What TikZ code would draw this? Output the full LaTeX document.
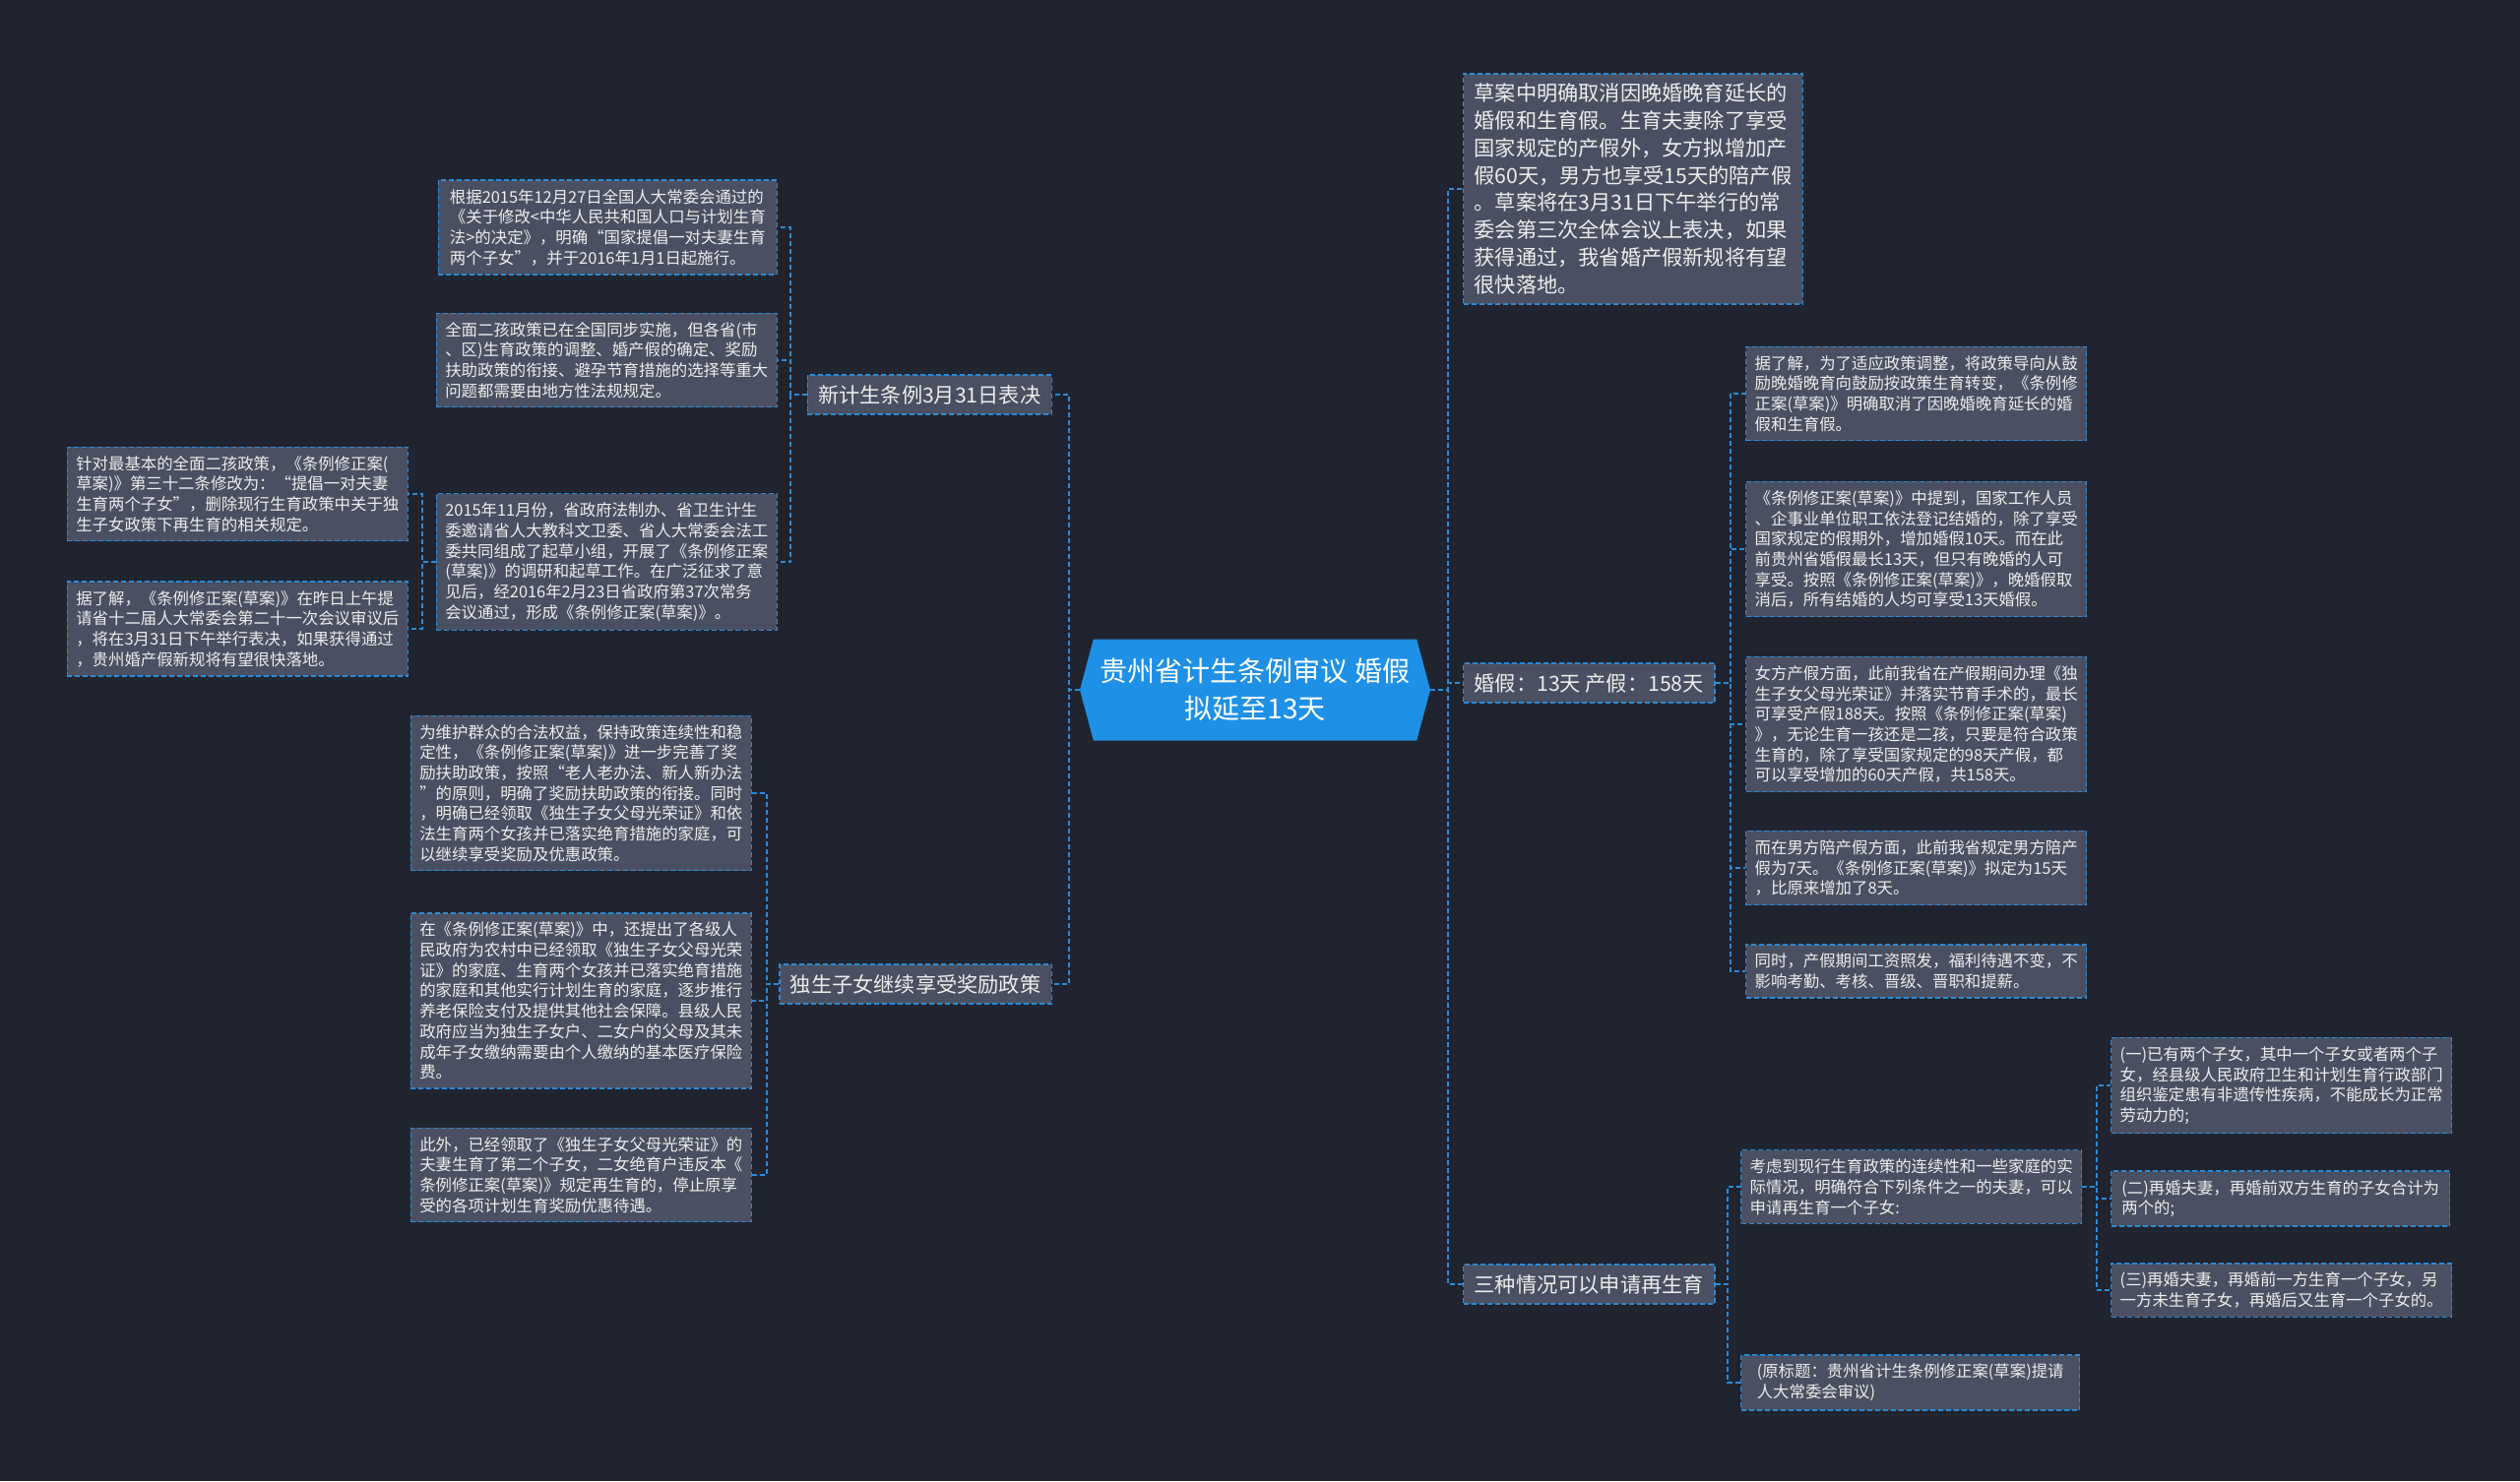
\documentclass[tikz,border=0pt]{standalone}
\usepackage{fontspec}
\setmainfont{Noto Sans CJK SC}
\usetikzlibrary{shapes.symbols}
\definecolor{bgdark}{HTML}{20242F}
\definecolor{boxgray}{HTML}{4A5061}
\definecolor{linkblue}{HTML}{2B8BD8}
\definecolor{rootblue}{HTML}{1E90E6}
\definecolor{txtlight}{HTML}{EDEDED}

\begin{document}
\begin{tikzpicture}[
    x=0.5pt, y=-0.5pt,
    root/.style={signal, signal to=west and east, signal pointer angle=150,
                 fill=rootblue, text=white, font=\fontsize{14}{18.75}\selectfont,
                 align=center, minimum width=178pt, minimum height=51.5pt, inner sep=2pt},
    topic/.style={rectangle, draw=linkblue, line width=0.7pt, dash pattern=on 2.5pt off 1.5pt,
                  fill=boxgray, text=txtlight, font=\fontsize{10.6}{13.9}\selectfont,
                  align=left, inner xsep=5.5pt, inner ysep=5pt},
    note/.style={rectangle, draw=linkblue, line width=0.7pt, dash pattern=on 2.5pt off 1.5pt,
                 fill=boxgray, text=txtlight, font=\fontsize{8.2}{10.35}\selectfont,
                 align=left, inner sep=4.5pt, minimum width=172pt},
    link/.style={draw=linkblue, line width=0.7pt, dash pattern=on 2.5pt off 1.5pt},
]
  % Background
  \fill[bgdark] (0,0) rectangle (2560,1505);
  \useasboundingbox (0,0) rectangle (2560,1505);

  % Root
  \node[root] (root) at (1275, 701) {贵州省计生条例审议 婚假\\拟延至13天};

  % Main topics
  \node[topic, anchor=east] (law) at (1069, 401) {新计生条例3月31日表决};
  \node[topic, anchor=east] (only) at (1069, 1000) {独生子女继续享受奖励政策};
  \node[topic, anchor=west] (draft) at (1486, 192)
    {草案中明确取消因晚婚晚育延长的\\婚假和生育假。生育夫妻除了享受\\国家规定的产假外，女方拟增加产\\假60天，男方也享受15天的陪产假\\。草案将在3月31日下午举行的常\\委会第三次全体会议上表决，如果\\获得通过，我省婚产假新规将有望\\很快落地。};
  \node[topic, anchor=west] (leave) at (1486, 694) {婚假：13天 产假：158天};
  \node[topic, anchor=west] (three) at (1486, 1305) {三种情况可以申请再生育};

  % Notes: vote
  \node[note, anchor=east] (law1) at (790, 231)
    {根据2015年12月27日全国人大常委会通过的\\《关于修改<中华人民共和国人口与计划生育\\法>的决定》，明确“国家提倡一对夫妻生育\\两个子女”，并于2016年1月1日起施行。};
  \node[note, anchor=east] (law2) at (790, 366)
    {全面二孩政策已在全国同步实施，但各省(市\\、区)生育政策的调整、婚产假的确定、奖励\\扶助政策的衔接、避孕节育措施的选择等重大\\问题都需要由地方性法规规定。};
  \node[note, anchor=east] (law3) at (790, 571)
    {2015年11月份，省政府法制办、省卫生计生\\委邀请省人大教科文卫委、省人大常委会法工\\委共同组成了起草小组，开展了《条例修正案\\(草案)》的调研和起草工作。在广泛征求了意\\见后，经2016年2月23日省政府第37次常务\\会议通过，形成《条例修正案(草案)》。};
  \node[note, anchor=east] (law3a) at (415, 502)
    {针对最基本的全面二孩政策，《条例修正案(\\草案)》第三十二条修改为：“提倡一对夫妻\\生育两个子女”，删除现行生育政策中关于独\\生子女政策下再生育的相关规定。};
  \node[note, anchor=east] (law3b) at (415, 639)
    {据了解，《条例修正案(草案)》在昨日上午提\\请省十二届人大常委会第二十一次会议审议后\\，将在3月31日下午举行表决，如果获得通过\\，贵州婚产假新规将有望很快落地。};

  % Notes: only child
  \node[note, anchor=east] (only1) at (764, 806)
    {为维护群众的合法权益，保持政策连续性和稳\\定性，《条例修正案(草案)》进一步完善了奖\\励扶助政策，按照“老人老办法、新人新办法\\”的原则，明确了奖励扶助政策的衔接。同时\\，明确已经领取《独生子女父母光荣证》和依\\法生育两个女孩并已落实绝育措施的家庭，可\\以继续享受奖励及优惠政策。};
  \node[note, anchor=east] (only2) at (764, 1017)
    {在《条例修正案(草案)》中，还提出了各级人\\民政府为农村中已经领取《独生子女父母光荣\\证》的家庭、生育两个女孩并已落实绝育措施\\的家庭和其他实行计划生育的家庭，逐步推行\\养老保险支付及提供其他社会保障。县级人民\\政府应当为独生子女户、二女户的父母及其未\\成年子女缴纳需要由个人缴纳的基本医疗保险\\费。};
  \node[note, anchor=east] (only3) at (764, 1194)
    {此外，已经领取了《独生子女父母光荣证》的\\夫妻生育了第二个子女，二女绝育户违反本《\\条例修正案(草案)》规定再生育的，停止原享\\受的各项计划生育奖励优惠待遇。};

  % Notes: leave
  \node[note, anchor=west] (leave1) at (1773, 400)
    {据了解，为了适应政策调整，将政策导向从鼓\\励晚婚晚育向鼓励按政策生育转变，《条例修\\正案(草案)》明确取消了因晚婚晚育延长的婚\\假和生育假。};
  \node[note, anchor=west] (leave2) at (1773, 558)
    {《条例修正案(草案)》中提到，国家工作人员\\、企事业单位职工依法登记结婚的，除了享受\\国家规定的假期外，增加婚假10天。而在此\\前贵州省婚假最长13天，但只有晚婚的人可\\享受。按照《条例修正案(草案)》，晚婚假取\\消后，所有结婚的人均可享受13天婚假。};
  \node[note, anchor=west] (leave3) at (1773, 736)
    {女方产假方面，此前我省在产假期间办理《独\\生子女父母光荣证》并落实节育手术的，最长\\可享受产假188天。按照《条例修正案(草案)\\》，无论生育一孩还是二孩，只要是符合政策\\生育的，除了享受国家规定的98天产假，都\\可以享受增加的60天产假，共158天。};
  \node[note, anchor=west] (leave4) at (1773, 882)
    {而在男方陪产假方面，此前我省规定男方陪产\\假为7天。《条例修正案(草案)》拟定为15天\\，比原来增加了8天。};
  \node[note, anchor=west] (leave5) at (1773, 987)
    {同时，产假期间工资照发，福利待遇不变，不\\影响考勤、考核、晋级、晋职和提薪。};

  % Notes: three cases
  \node[note, anchor=west] (three1) at (1768, 1206)
    {考虑到现行生育政策的连续性和一些家庭的实\\际情况，明确符合下列条件之一的夫妻，可以\\申请再生育一个子女:};
  \node[note, anchor=west] (three2) at (1768, 1405)
    {(原标题：贵州省计生条例修正案(草案)提请\\人大常委会审议)};
  \node[note, anchor=west] (case1) at (2144, 1103)
    {(一)已有两个子女，其中一个子女或者两个子\\女，经县级人民政府卫生和计划生育行政部门\\组织鉴定患有非遗传性疾病，不能成长为正常\\劳动力的;};
  \node[note, anchor=west] (case2) at (2144, 1218)
    {(二)再婚夫妻，再婚前双方生育的子女合计为\\两个的;};
  \node[note, anchor=west] (case3) at (2144, 1311)
    {(三)再婚夫妻，再婚前一方生育一个子女，另\\一方未生育子女，再婚后又生育一个子女的。};

  % Trunks
  \coordinate (tL) at (1086, 0);
  \coordinate (tR) at (1471, 0);
  \coordinate (tLaw) at (803, 0);
  \coordinate (tLaw3) at (429, 0);
  \coordinate (tOnly) at (779, 0);
  \coordinate (tLeave) at (1758, 0);
  \coordinate (tThree) at (1755, 0);
  \coordinate (tCase) at (2130, 0);

  % Connectors
  \foreach \c in {law, only}
    \draw[link] (root.west) -- (root.west -| tL) |- (\c.east);
  \foreach \c in {draft, leave, three}
    \draw[link] (root.east) -- (root.east -| tR) |- (\c.west);
  \foreach \c in {law1, law2, law3}
    \draw[link] (law.west) -- (law.west -| tLaw) |- (\c.east);
  \foreach \c in {law3a, law3b}
    \draw[link] (law3.west) -- (law3.west -| tLaw3) |- (\c.east);
  \foreach \c in {only1, only2, only3}
    \draw[link] (only.west) -- (only.west -| tOnly) |- (\c.east);
  \foreach \c in {leave1, leave2, leave3, leave4, leave5}
    \draw[link] (leave.east) -- (leave.east -| tLeave) |- (\c.west);
  \foreach \c in {three1, three2}
    \draw[link] (three.east) -- (three.east -| tThree) |- (\c.west);
  \foreach \c in {case1, case2, case3}
    \draw[link] (three1.east) -- (three1.east -| tCase) |- (\c.west);

\end{tikzpicture}
\end{document}
